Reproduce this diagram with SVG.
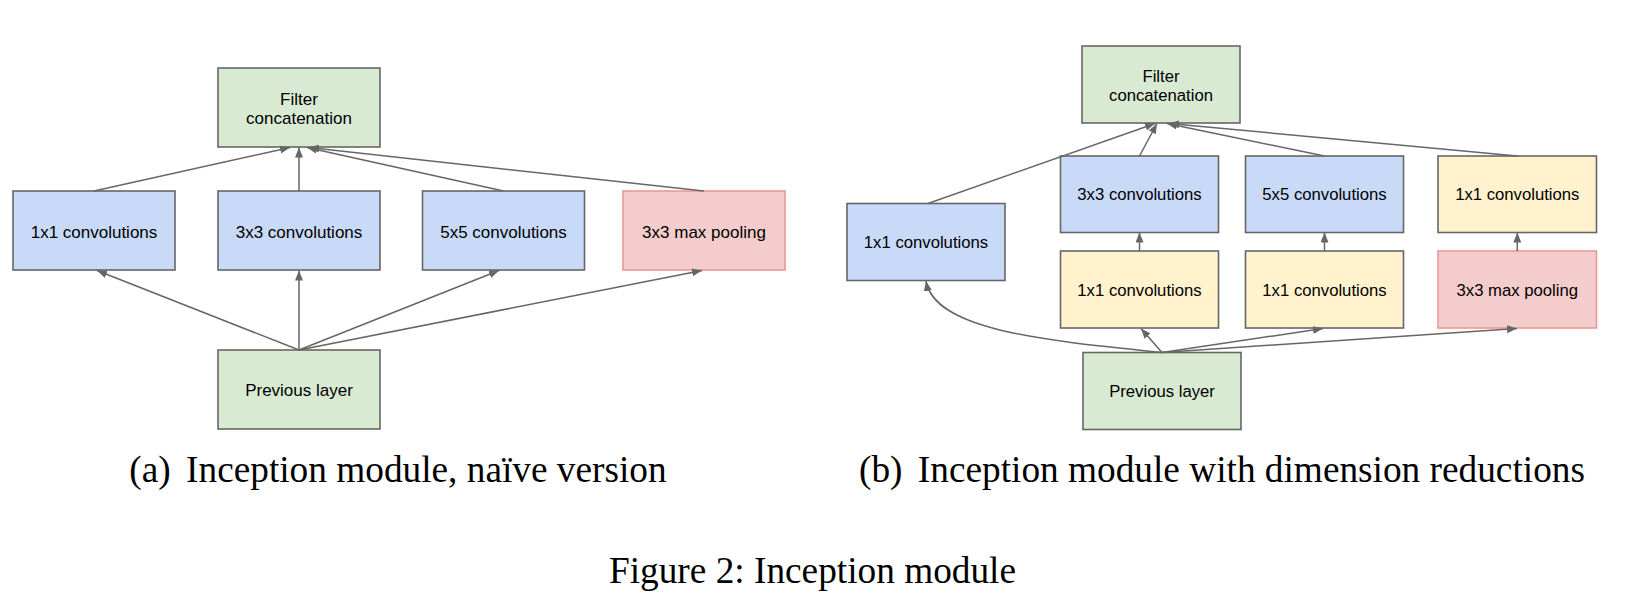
<svg xmlns="http://www.w3.org/2000/svg" width="1635" height="602" viewBox="0 0 1635 602">
<style>
.box{stroke:#666666;stroke-width:1.6}
.green{fill:#d9ead3}
.blue{fill:#c9daf8}
.yellow{fill:#fff2cc}
.red{fill:#f4cccc;stroke:#ea9999}
.lbl{font-family:"Liberation Sans",Arial,sans-serif;fill:#000;text-anchor:middle}
.a{font-size:17px}
.b{font-size:16.7px}
.cap{font-family:"Liberation Serif","Times New Roman",serif;font-size:37.3px;fill:#000;text-anchor:middle}
.edge{stroke:#666666;stroke-width:1.5;fill:none;marker-end:url(#ah)}
</style>
<defs>
<marker id="ah" markerUnits="userSpaceOnUse" markerWidth="11" markerHeight="9" refX="10" refY="4" orient="auto">
<path d="M0,0 L10,4 L0,8 z" fill="#666666"/>
</marker>
</defs>
<rect width="1635" height="602" fill="#ffffff"/>

<g id="a-concat"><rect class="box green" x="218" y="68" width="162" height="79"/><text class="lbl a" x="299" y="104.5">Filter</text><text class="lbl a" x="299" y="124">concatenation</text></g>
<g id="a-conv1"><rect class="box blue" x="13" y="191" width="162" height="79"/><text class="lbl a" x="94" y="238">1x1 convolutions</text></g>
<g id="a-conv3"><rect class="box blue" x="218" y="191" width="162" height="79"/><text class="lbl a" x="299" y="238">3x3 convolutions</text></g>
<g id="a-conv5"><rect class="box blue" x="422.5" y="191" width="162" height="79"/><text class="lbl a" x="503.5" y="238">5x5 convolutions</text></g>
<g id="a-pool"><rect class="box red" x="623" y="191" width="162" height="79"/><text class="lbl a" x="704" y="238">3x3 max pooling</text></g>
<g id="a-prev"><rect class="box green" x="218" y="350" width="162" height="79"/><text class="lbl a" x="299" y="395.5">Previous layer</text></g>

<g id="b-concat"><rect class="box green" x="1082" y="46" width="158" height="77"/><text class="lbl b" x="1161" y="81.5">Filter</text><text class="lbl b" x="1161" y="100.8">concatenation</text></g>
<g id="b-conv1"><rect class="box blue" x="847" y="203.5" width="158" height="77"/><text class="lbl b" x="926" y="247.8">1x1 convolutions</text></g>
<g id="b-conv3"><rect class="box blue" x="1060.5" y="156" width="158" height="76.5"/><text class="lbl b" x="1139.5" y="200">3x3 convolutions</text></g>
<g id="b-red3"><rect class="box yellow" x="1060.5" y="251" width="158" height="77"/><text class="lbl b" x="1139.5" y="295.5">1x1 convolutions</text></g>
<g id="b-conv5"><rect class="box blue" x="1245.5" y="156" width="158" height="76.5"/><text class="lbl b" x="1324.5" y="200">5x5 convolutions</text></g>
<g id="b-red5"><rect class="box yellow" x="1245.5" y="251" width="158" height="77"/><text class="lbl b" x="1324.5" y="295.5">1x1 convolutions</text></g>
<g id="b-proj"><rect class="box yellow" x="1438" y="156" width="158.5" height="76.5"/><text class="lbl b" x="1517.3" y="200">1x1 convolutions</text></g>
<g id="b-pool"><rect class="box red" x="1438" y="251" width="158.5" height="77"/><text class="lbl b" x="1517.3" y="295.5">3x3 max pooling</text></g>
<g id="b-prev"><rect class="box green" x="1083" y="352.5" width="158" height="77"/><text class="lbl b" x="1162" y="397">Previous layer</text></g>

<g id="connectors">
<line class="edge" x1="299" y1="350" x2="97" y2="270.5"/>
<line class="edge" x1="299" y1="350" x2="299" y2="270.5"/>
<line class="edge" x1="299" y1="350" x2="499" y2="270.5"/>
<line class="edge" x1="299" y1="350" x2="702" y2="270.5"/>
<line class="edge" x1="94" y1="191" x2="290" y2="147.5"/>
<line class="edge" x1="299" y1="191" x2="299" y2="147.5"/>
<line class="edge" x1="503.5" y1="191" x2="307" y2="147.5"/>
<line class="edge" x1="704" y1="191" x2="309" y2="147.5"/>

<path class="edge" d="M1162,352.5 C1040,340 935,330 926,281"/>
<line class="edge" x1="1162" y1="352.5" x2="1141" y2="328.5"/>
<line class="edge" x1="1162" y1="352.5" x2="1323" y2="328.5"/>
<line class="edge" x1="1162" y1="352.5" x2="1517" y2="328.5"/>
<line class="edge" x1="1139.5" y1="251" x2="1139.5" y2="232.5"/>
<line class="edge" x1="1324.5" y1="251" x2="1324.5" y2="232.5"/>
<line class="edge" x1="1517.3" y1="251" x2="1517.3" y2="232.5"/>
<line class="edge" x1="928" y1="203.5" x2="1155" y2="123.5"/>
<line class="edge" x1="1139.5" y1="156" x2="1157" y2="123.5"/>
<line class="edge" x1="1324.5" y1="156" x2="1167" y2="123.5"/>
<line class="edge" x1="1517.3" y1="156" x2="1169" y2="123.5"/>
</g>

<text class="cap" x="398" y="482">(a)<tspan dx="6"> Inception module, naïve version</tspan></text>
<text class="cap" x="1222" y="482">(b)<tspan dx="6"> Inception module with dimension reductions</tspan></text>
<text class="cap" x="812.5" y="583">Figure 2: Inception module</text>
</svg>
